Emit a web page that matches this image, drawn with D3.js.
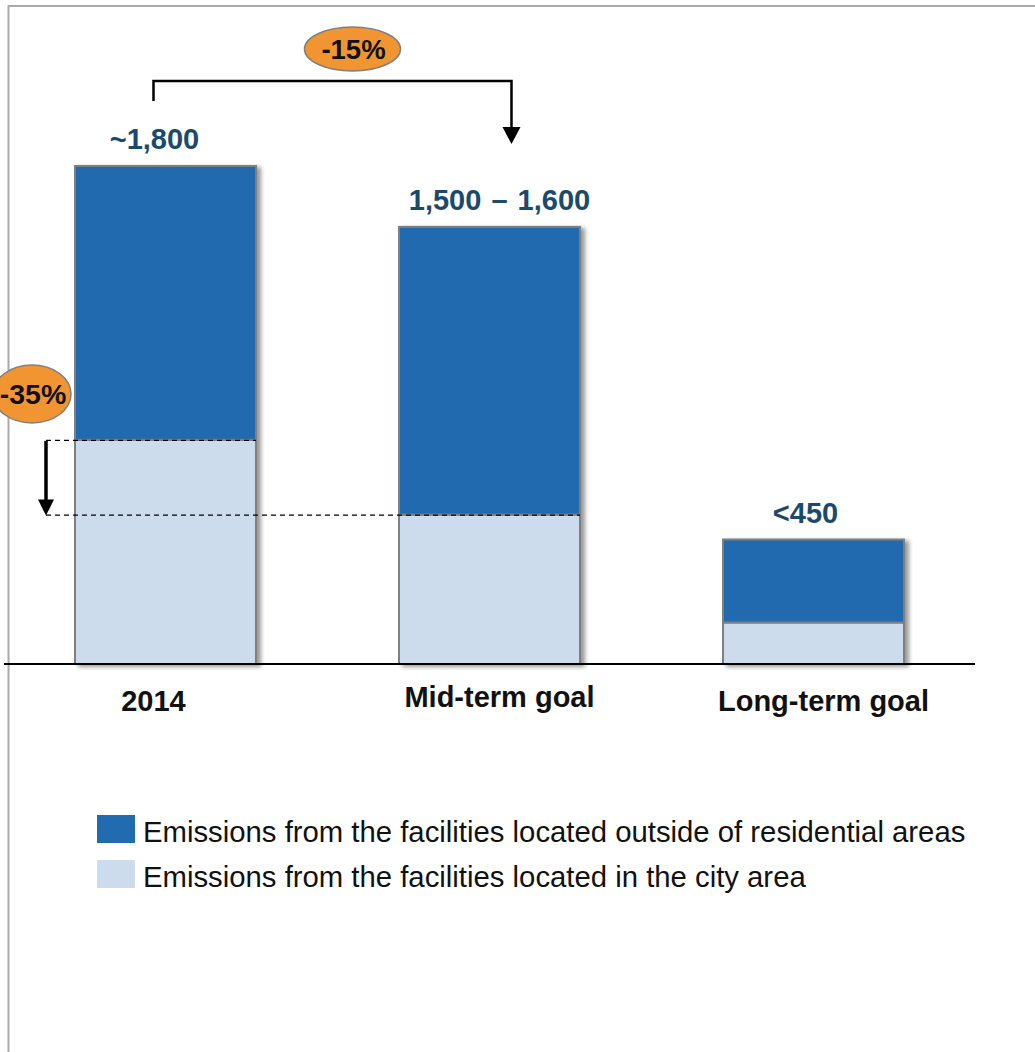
<!DOCTYPE html>
<html>
<head>
<meta charset="utf-8">
<script src="https://cdn.jsdelivr.net/npm/d3@7"></script>
<style>
  html, body { margin: 0; padding: 0; background: #fff; }
  svg { display: block; font-family: "Liberation Sans", Arial, sans-serif; }
</style>
</head>
<body>
<svg id="chart" width="1035" height="1052"></svg>
<script>
// Emission scenarios (stacked: city area at the bottom, outside residential on top)
const categories = ["2014", "Mid-term goal", "Long-term goal"];
const cityArea = [810, 540, 150];
const outsideResidential = [990, 1040, 300];
const valueLabels = ["~1,800", "1,500 \u2013 1,600", "<450"];
const seriesNames = [
  "Emissions from the facilities located outside of residential areas",
  "Emissions from the facilities located in the city area"
];
const changeLabels = ["-15%", "-35%"];

const colors = { outside: "#236bb0", city: "#ccdcec", stroke: "#7f7f7f", value: "#1b4a6b" };

// Horizontal nudges for the text under / above each bar
const catLabelShift = [-12, 10, 10];
const valueLabelShift = [-11, 10, -8];

const svg = d3.select("#chart");

// Frame
svg.append("path")
  .attr("d", "M8.5,1052 V6 H1035")
  .attr("fill", "none").attr("stroke", "#aaaaaa").attr("stroke-width", 2);

// Soft shadow on bars
const defs = svg.append("defs");
defs.append("filter").attr("id", "shadow")
  .attr("x", "-10%").attr("y", "-10%").attr("width", "130%").attr("height", "130%")
  .append("feDropShadow")
  .attr("dx", 4).attr("dy", 2).attr("stdDeviation", 2.2)
  .attr("flood-color", "#000").attr("flood-opacity", 0.4);

const totals = categories.map((c, i) => cityArea[i] + outsideResidential[i]);

const x = d3.scaleBand()
  .domain(categories)
  .range([75, 904])
  .paddingInner(0.4414)
  .paddingOuter(0);

const y = d3.scaleLinear()
  .domain([0, 1800])
  .range([664, 166]);

const stackData = categories.map((c, i) => ({ cat: c, city: cityArea[i], outside: outsideResidential[i] }));
const stack = d3.stack().keys(["city", "outside"])(stackData);

const bars = svg.append("g").attr("filter", "url(#shadow)");
stack.forEach(layer => {
  bars.append("g")
    .selectAll("rect")
    .data(layer)
    .join("rect")
    .attr("x", d => x(d.data.cat))
    .attr("y", d => y(d[1]))
    .attr("width", x.bandwidth())
    .attr("height", d => y(d[0]) - y(d[1]))
    .attr("fill", layer.key === "city" ? colors.city : colors.outside)
    .attr("stroke", colors.stroke)
    .attr("stroke-width", 2);
});

// Baseline
svg.append("line")
  .attr("x1", 4).attr("x2", 975)
  .attr("y1", y(0)).attr("y2", y(0))
  .attr("stroke", "#000").attr("stroke-width", 2);

// Category labels
svg.append("g").selectAll("text")
  .data(categories)
  .join("text")
  .attr("x", (d, i) => x(d) + x.bandwidth() / 2 + catLabelShift[i])
  .attr("y", (d, i) => i === 1 ? 707 : 711)
  .attr("text-anchor", "middle")
  .attr("font-size", 29).attr("font-weight", "bold").attr("fill", "#111")
  .text(d => d);

// Total labels above bars
svg.append("g").selectAll("text")
  .data(valueLabels)
  .join("text")
  .attr("x", (d, i) => x(categories[i]) + x.bandwidth() / 2 + valueLabelShift[i])
  .attr("y", (d, i) => y(totals[i]) - 17)
  .attr("text-anchor", "middle")
  .attr("font-size", 29).attr("font-weight", "bold").attr("fill", colors.value)
  .style("word-spacing", "2px")
  .text(d => d);

// City-area reduction guides (dashed) and arrow
const guideX = 46;
[0, 1].forEach(i => {
  svg.append("line")
    .attr("x1", guideX).attr("x2", x(categories[i]) + x.bandwidth())
    .attr("y1", y(cityArea[i]) + 0.5).attr("y2", y(cityArea[i]) + 0.5)
    .attr("stroke", "#000").attr("stroke-width", 1.2)
    .attr("stroke-dasharray", "5,4");
});
const yA0 = y(cityArea[0]) + 1, yA1 = y(cityArea[1]) + 1;
svg.append("line")
  .attr("x1", guideX).attr("x2", guideX)
  .attr("y1", yA0).attr("y2", yA1 - 14)
  .attr("stroke", "#000").attr("stroke-width", 3.5);
svg.append("path")
  .attr("d", `M${guideX - 8},${yA1 - 16} L${guideX + 8},${yA1 - 16} L${guideX},${yA1} Z`)
  .attr("fill", "#000");

// Total reduction bracket
const bx0 = x(categories[0]) + x.bandwidth() / 2 - 12;
const bx1 = x(categories[1]) + x.bandwidth() / 2 + 22;
svg.append("path")
  .attr("d", `M${bx0},101 V81 H${bx1} V128`)
  .attr("fill", "none").attr("stroke", "#000").attr("stroke-width", 2.5);
svg.append("path")
  .attr("d", `M${bx1 - 9},127 L${bx1 + 9},127 L${bx1},144 Z`)
  .attr("fill", "#000");

// Percentage bubbles
const bubbles = [
  { text: changeLabels[0], cx: (bx0 + bx1) / 2 + 20, cy: 49, rx: 48, ry: 22, fs: 27.5, tx: 1 },
  { text: changeLabels[1], cx: 32, cy: 394, rx: 39, ry: 29, fs: 28.5, tx: 1 }
];
const bub = svg.append("g").selectAll("g").data(bubbles).join("g");
bub.append("ellipse")
  .attr("cx", d => d.cx).attr("cy", d => d.cy)
  .attr("rx", d => d.rx).attr("ry", d => d.ry)
  .attr("fill", "#f19532").attr("stroke", "#7f7f7f").attr("stroke-width", 1.5);
bub.append("text")
  .attr("x", d => d.cx + d.tx).attr("y", d => d.cy + 10)
  .attr("text-anchor", "middle")
  .attr("font-size", d => d.fs).attr("font-weight", "bold").attr("fill", "#111")
  .text(d => d.text);

// Legend
const legend = svg.append("g").selectAll("g")
  .data(seriesNames)
  .join("g")
  .attr("transform", (d, i) => `translate(97,${815 + i * 45})`);
legend.append("rect")
  .attr("width", 38).attr("height", 28)
  .attr("fill", (d, i) => i === 0 ? colors.outside : colors.city);
legend.append("text")
  .attr("x", 46).attr("y", 27)
  .attr("font-size", 29.3).attr("fill", "#111")
  .text(d => d);
</script>
</body>
</html>
